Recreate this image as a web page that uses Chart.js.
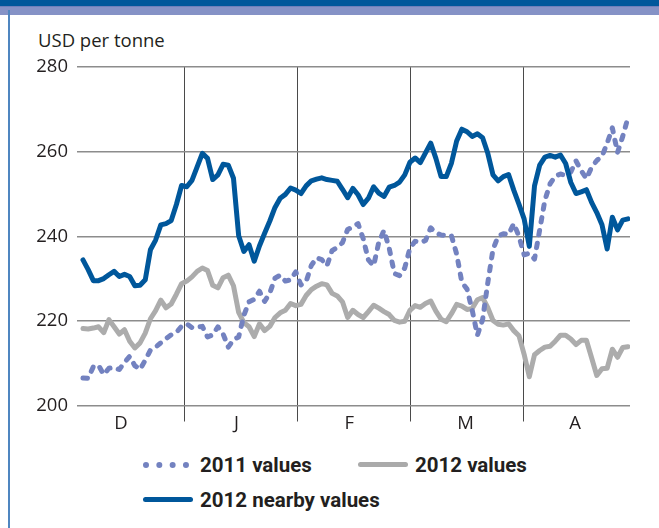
<!DOCTYPE html>
<html lang="en">
<head>
<meta charset="UTF-8">
<title>USD per tonne</title>
<script src="https://cdn.jsdelivr.net/npm/chart.js"></script>
<style>
  html, body { margin: 0; padding: 0; background: #fff; }
  body { width: 659px; height: 528px; position: relative; overflow: hidden; font-family: "Open Sans", sans-serif; color: #231f20; }
  .bar-top { position: absolute; left: 0; top: 0; width: 659px; height: 6px; background: #00579b; }
  .bar-band { position: absolute; left: 0; top: 6px; width: 659px; height: 9px; background: #8592c6; border-top: 1px solid #6f7fbb; box-sizing: border-box; }
  .bar-left { position: absolute; left: 8px; top: 10px; width: 2px; height: 518px; background: #4f86c0; }
  #wrap { position: absolute; left: 0; top: 0; width: 659px; height: 440px; }
  .unit { position: absolute; left: 38px; top: 28px; font-size: 18.5px; line-height: 24px; }
  .key { position: absolute; font-family: Roboto, sans-serif; font-weight: 700; font-size: 20.5px; line-height: 24px; white-space: nowrap; }
  .swatch { position: absolute; }
</style>
</head>
<body>
<div class="bar-top"></div>
<div class="bar-band"></div>
<div class="bar-left"></div>
<div class="unit">USD per tonne</div>
<div id="wrap"><canvas id="chart" width="659" height="440"></canvas></div>

<div class="swatch" style="left:143px; top:462px; width:46px; border-top:6px dotted #7382c0;"></div>
<div class="key" style="left:200px; top:453px;">2011 values</div>
<div class="swatch" style="left:358px; top:462px; width:50px; height:5px; border-radius:3px; background:#aaaaaa;"></div>
<div class="key" style="left:415px; top:453px;">2012 values</div>
<div class="swatch" style="left:143px; top:497px; width:50px; height:5px; border-radius:3px; background:#00579b;"></div>
<div class="key" style="left:200px; top:488px;">2012 nearby values</div>

<script>
// x positions are business-day indices (Dec to Apr)
const monthLabels = ['D', 'J', 'F', 'M', 'A'];
const monthLabelAt = [7.3, 29.6, 51.3, 73.7, 94.8];
const monthEdges = [19.6, 41.3, 63.1, 84.8];

const yTicks = [200, 220, 240, 260, 280];

const nearby2012 = [
  234.4, 232.1, 229.5, 229.5, 230.0, 230.9, 231.7, 230.5, 231.0, 230.5,
  228.3, 228.4, 229.7, 236.8, 239.1, 242.7, 243.0, 243.7, 247.5, 252.0,
  251.7, 253.2, 256.4, 259.6, 258.4, 253.4, 254.5, 257.0, 256.8, 253.7,
  240.1, 236.4, 238.0, 234.1, 237.7, 240.7, 243.6, 246.8, 249.0, 249.9,
  251.4, 250.9, 250.1, 251.9, 253.1, 253.5, 253.8, 253.4, 253.2, 253.0,
  251.1, 249.1, 251.3, 249.8, 247.5, 249.0, 251.7, 250.2, 249.4, 251.6,
  252.0, 252.8, 254.5, 257.5, 258.5, 257.4, 259.7, 262.0, 258.4, 254.1,
  254.1, 257.3, 262.5, 265.3, 264.7, 263.6, 264.2, 263.3, 259.6, 254.5,
  253.1, 254.1, 254.6, 250.9, 247.6, 244.1, 237.6, 251.9, 256.8, 258.7,
  259.1, 258.7, 259.2, 257.2, 252.7, 250.1, 250.5, 251.0, 248.0, 245.6,
  242.7, 237.0, 244.5, 241.5, 243.8, 244.1
];

const values2012 = [
  218.2, 218.1, 218.3, 218.6, 217.2, 220.3, 218.6, 216.9, 217.9, 215.2,
  213.6, 214.8, 217.1, 220.5, 222.4, 224.9, 223.1, 224.0, 226.3, 228.8,
  229.4, 230.4, 231.7, 232.5, 231.9, 228.4, 227.8, 230.2, 230.8, 228.3,
  222.0, 219.6, 218.6, 216.3, 219.3, 217.7, 218.7, 220.8, 221.9, 222.5,
  224.1, 223.6, 223.9, 226.0, 227.4, 228.2, 228.8, 228.5, 226.5, 225.9,
  224.5, 220.8, 222.5, 221.5, 220.8, 222.2, 223.7, 223.0, 222.2, 221.5,
  220.1, 219.7, 219.9, 222.5, 223.6, 223.2, 224.1, 224.7, 222.3, 220.4,
  219.8, 221.7, 223.9, 223.5, 222.7, 222.9, 225.0, 225.5, 223.1, 220.1,
  219.2, 219.0, 219.3, 217.7, 216.5, 212.1, 206.8, 212.0, 213.0, 213.8,
  214.0, 215.2, 216.6, 216.6, 215.7, 214.4, 215.4, 215.4, 211.3, 207.1,
  208.7, 208.8, 213.3, 211.4, 213.7, 213.9
];

const values2011 = [
  206.5, 206.4, 209.2, 209.5, 207.3, 208.8, 209.0, 208.5, 210.2, 211.6,
  209.4, 208.5, 210.7, 213.1, 213.8, 214.8, 215.8, 216.7, 217.3, 218.7,
  219.3, 218.4, 218.5, 218.7, 216.2, 216.7, 218.6, 216.9, 213.8, 215.6,
  216.2, 221.3, 224.5, 225.1, 227.0, 224.6, 226.6, 230.1, 230.8, 229.4,
  229.7, 231.6, 228.5, 229.3, 233.1, 234.9, 234.5, 233.0, 236.6, 237.4,
  238.5, 241.6, 242.2, 243.0, 239.4, 234.4, 233.0, 238.6, 241.4, 237.2,
  231.2, 230.7, 232.5, 237.2, 238.8, 238.5, 239.0, 242.0, 240.8, 240.3,
  240.2, 240.1, 235.8, 229.1, 227.5, 222.5, 216.6, 220.3, 229.0, 236.9,
  240.0, 240.6, 240.4, 243.0, 240.0, 235.6, 236.0, 234.6, 241.5, 248.5,
  252.4, 254.2, 254.7, 254.4, 255.2, 257.8, 255.5, 253.6, 256.3, 257.9,
  258.9, 262.0, 265.6, 259.8, 263.6, 268.0
];

const dayIndex = values2011.map((v, i) => i);

const lineWidth = 5;

new Chart(document.getElementById('chart'), {
  type: 'line',
  data: {
    labels: dayIndex,
    datasets: [
      {
        label: '2012 nearby values',
        data: nearby2012,
        borderColor: '#00579b',
        borderWidth: lineWidth,
        borderJoinStyle: 'round',
        borderCapStyle: 'round',
        pointRadius: 0,
        tension: 0
      },
      {
        label: '2011 values',
        data: values2011,
        borderColor: '#7382c0',
        borderWidth: lineWidth,
        borderDash: [4.5, 8.5],
        borderJoinStyle: 'round',
        borderCapStyle: 'round',
        pointRadius: 0,
        tension: 0
      },
      {
        label: '2012 values',
        data: values2012,
        borderColor: '#acacac',
        borderWidth: lineWidth,
        borderJoinStyle: 'round',
        borderCapStyle: 'round',
        pointRadius: 0,
        tension: 0
      }
    ]
  },
  options: {
    responsive: false,
    animation: false,
    events: [],
    layout: { padding: { left: 0, right: 29, top: 67, bottom: 0 } },
    plugins: {
      legend: { display: false },
      tooltip: { enabled: false }
    },
    scales: {
      x: {
        type: 'linear',
        min: -1.15,
        max: 105.4,
        afterBuildTicks: (axis) => {
          const vals = monthEdges.concat(monthLabelAt).sort((a, b) => a - b);
          axis.ticks = vals.map(v => ({ value: v }));
        },
        afterFit: (axis) => { axis.height = 34.5; },
        border: { display: false },
        grid: {
          color: (ctx) => (ctx.tick && monthEdges.includes(ctx.tick.value)) ? '#4a4a4a' : 'rgba(0,0,0,0)',
          lineWidth: 1,
          drawTicks: true,
          tickLength: 16
        },
        ticks: {
          autoSkip: false,
          maxRotation: 0,
          padding: -9,
          color: '#231f20',
          font: { family: '"Open Sans", sans-serif', size: 18.5 },
          callback: (value) => {
            const k = monthLabelAt.indexOf(value);
            return k >= 0 ? monthLabels[k] : '';
          }
        }
      },
      y: {
        min: yTicks[0],
        max: yTicks[yTicks.length - 1],
        afterBuildTicks: (axis) => { axis.ticks = yTicks.map(v => ({ value: v })); },
        afterFit: (axis) => { axis.width = 77; },
        border: { display: false },
        grid: { color: '#8c8c8c', lineWidth: 1.5, drawTicks: false },
        ticks: {
          padding: 9,
          color: '#231f20',
          font: { family: '"Open Sans", sans-serif', size: 18.5 }
        }
      }
    }
  }
});
</script>
</body>
</html>
